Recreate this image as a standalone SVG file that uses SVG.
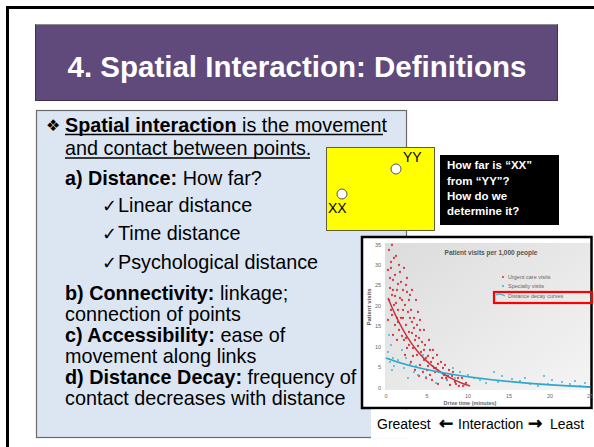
<svg xmlns="http://www.w3.org/2000/svg" width="594" height="447" viewBox="0 0 594 447">
<defs>
<style>
.t{font-family:"Liberation Sans",Arial,sans-serif;fill:#000}
.b{font-weight:bold}
.p{font-size:19.8px}
.ck{font-family:"DejaVu Sans",sans-serif;font-size:18px;fill:#000}
.tiny{font-family:"Liberation Sans",Arial,sans-serif;font-size:5.5px;fill:#666}
</style>
<linearGradient id="plotbg" x1="0" y1="0" x2="1" y2="1">
<stop offset="0" stop-color="#dcdcdc"/>
<stop offset="1" stop-color="#f4f4f4"/>
</linearGradient>
</defs>
<rect width="594" height="447" fill="#fff"/>
<g id="frame">
<path d="M7.5 447V7.5H594" fill="none" stroke="#000" stroke-width="3"/>
</g>
<g id="title">
<rect x="35.5" y="24.5" width="522" height="76" fill="#604a7b" stroke="#3f3151" stroke-width="1"/>
<line x1="35.5" y1="24.5" x2="557.5" y2="24.5" stroke="#8c8c8c" stroke-width="1"/>
<text x="297" y="77" text-anchor="middle" class="t b" style="font-size:29.5px;fill:#fff">4. Spatial Interaction: Definitions</text>
</g>
<g id="panel">
<rect x="36.5" y="110.5" width="370" height="327" fill="#dce6f2" stroke="#6a6a6a" stroke-width="1.2"/>
<text x="46" y="131" style="font-family:'DejaVu Sans',sans-serif;font-size:16px;fill:#000">❖</text>
<text x="65" y="131.5" class="t p"><tspan class="b">Spatial interaction</tspan> is the movement</text>
<line x1="65" y1="134.5" x2="383" y2="134.5" stroke="#000" stroke-width="1.6"/>
<text x="65" y="155" class="t p">and contact between points.</text>
<line x1="65" y1="158" x2="310" y2="158" stroke="#000" stroke-width="1.6"/>
<text x="65" y="185" class="t p"><tspan class="b">a) Distance:</tspan> How far?</text>
<text x="102" y="212" class="ck">✓</text>
<text x="118" y="212" class="t p">Linear distance</text>
<text x="102" y="240" class="ck">✓</text>
<text x="118" y="240" class="t p">Time distance</text>
<text x="102" y="268.5" class="ck">✓</text>
<text x="118" y="268.5" class="t p">Psychological distance</text>
<text x="65" y="299.5" class="t p"><tspan class="b">b) Connectivity:</tspan> linkage;</text>
<text x="65" y="320.5" class="t p">connection of points</text>
<text x="65" y="341.5" class="t p"><tspan class="b">c) Accessibility:</tspan> ease of</text>
<text x="65" y="362.5" class="t p">movement along links</text>
<text x="65" y="383.5" class="t p"><tspan class="b">d) Distance Decay:</tspan> frequency of</text>
<text x="65" y="404.5" class="t p">contact decreases with distance</text>
</g>
<g id="map">
<rect x="326.5" y="147.5" width="108" height="83" fill="#ffff00" stroke="#5f5f3a" stroke-width="1"/>
<circle cx="396" cy="169" r="5" fill="#fff" stroke="#555" stroke-width="1"/>
<circle cx="342" cy="194" r="5" fill="#fff" stroke="#555" stroke-width="1"/>
<text x="403" y="162" class="t" style="font-size:14px">YY</text>
<text x="328" y="213" class="t" style="font-size:14px">XX</text>
</g>
<g id="question">
<rect x="440" y="155" width="119" height="70" fill="#000"/>
<g class="t b" style="font-size:11.5px;fill:#fff">
<text x="447" y="169">How far is “XX”</text>
<text x="447" y="184.5">from “YY”?</text>
<text x="447" y="200">How do we</text>
<text x="447" y="215">determine it?</text>
</g>
</g>
<g id="chart">
<rect x="362" y="237" width="229.5" height="171" fill="#fff" stroke="#000" stroke-width="2.5"/>
<rect x="385" y="243" width="205" height="147" fill="url(#plotbg)"/>
<text x="491" y="255" text-anchor="middle" class="t b" style="font-size:6.5px;fill:#555">Patient visits per 1,000 people</text>
<text transform="translate(371 307) rotate(-90)" text-anchor="middle" class="t b" style="font-size:6px;fill:#555">Patient visits</text>
<g class="tiny" text-anchor="end">
<text x="381" y="247">35</text><text x="381" y="267">30</text><text x="381" y="287">25</text><text x="381" y="308">20</text><text x="381" y="328">15</text><text x="381" y="349">10</text><text x="381" y="369">5</text><text x="381" y="390">0</text>
</g>
<g class="tiny" text-anchor="middle">
<text x="386" y="398">0</text><text x="427" y="398">5</text><text x="468" y="398">10</text><text x="509" y="398">15</text><text x="550" y="398">20</text><text x="590" y="398">25</text>
</g>
<text x="470" y="405" text-anchor="middle" class="t b" style="font-size:5.5px;fill:#666">Drive time (minutes)</text>
<path fill="none" stroke="#d83a44" stroke-width="2.3" stroke-linecap="round" d="M389 250h0M391 262h0M388 270h0M393 280h0M390 288h0M392 295h0M389 300h0M394 305h0M391 310h0M388 320h0M393 335h0M396 256h0M399 265h0M395 275h0M401 282h0M397 290h0M400 298h0M396 303h0M398 310h0M401 318h0M395 325h0M399 330h0M397 340h0M404 268h0M407 278h0M403 290h0M409 300h0M405 305h0M408 312h0M403 318h0M406 325h0M409 332h0M404 340h0M407 348h0M405 355h0M412 290h0M416 300h0M411 310h0M414 318h0M417 325h0M412 333h0M415 340h0M413 348h0M417 355h0M411 362h0M415 370h0M420 320h0M424 330h0M419 338h0M425 345h0M421 352h0M426 358h0M420 365h0M423 372h0M426 378h0M429 340h0M433 350h0M428 356h0M431 362h0M434 368h0M430 375h0M432 380h0M437 355h0M441 362h0M436 368h0M440 372h0M442 378h0M438 384h0M445 365h0M449 370h0M444 375h0M447 380h0M450 385h0M453 372h0M458 378h0M455 382h0M459 386h0M462 378h0M466 383h0M463 386h0M392 245h0M394 258h0M400 272h0M406 285h0M410 295h0M418 312h0M422 342h0M428 366h0M435 372h0M446 378h0M452 376h0M398 322h0M402 336h0M413 356h0M419 376h0M390 278h0M393 290h0M398 284h0M402 300h0M407 292h0M410 318h0M414 328h0M418 346h0M424 360h0M430 350h0M391 268h0M395 296h0M392 315h0M397 318h0M403 310h0M406 338h0M409 345h0M412 322h0M416 336h0M420 330h0M424 350h0M427 370h0M433 358h0M438 364h0M443 368h0M448 376h0M456 384h0"/>
<path fill="none" stroke="#45b3d6" stroke-width="2" stroke-linecap="round" d="M389 335h0M391 345h0M388 352h0M393 358h0M390 362h0M394 366h0M392 370h0M402 350h0M406 358h0M410 364h0M404 368h0M414 372h0M418 375h0M408 378h0M423 355h0M428 362h0M433 366h0M438 370h0M443 374h0M426 377h0M447 380h0M436 383h0M453 368h0M460 372h0M468 375h0M474 378h0M480 380h0M486 383h0M464 385h0M494 372h0M502 376h0M512 379h0M520 381h0M530 384h0M538 386h0M544 376h0M552 380h0M562 382h0M570 384h0M580 386h0M588 387h0M398 360h0M416 366h0M455 378h0M498 382h0M525 378h0M548 384h0M575 381h0M585 383h0"/>
<path d="M388 298C405 340 425 372 470 386" fill="none" stroke="#c9303a" stroke-width="1.5"/>
<path d="M386 358C430 375 500 383 590 387" fill="none" stroke="#2fa6cc" stroke-width="1.8"/>
<circle cx="503" cy="277" r="1.1" fill="#d83a44"/>
<circle cx="503" cy="286" r="1.1" fill="#45b3d6"/>
<path d="M496 295q4 -2 9 1" fill="none" stroke="#45b3d6" stroke-width="1.2"/>
<g class="tiny" style="font-size:5.5px">
<text x="508" y="279">Urgent care visits</text>
<text x="508" y="288">Specialty visits</text>
<text x="508" y="298">Distance decay curves</text>
</g>
<rect x="494" y="292" width="98" height="11" fill="none" stroke="#ff0000" stroke-width="2.2"/>
</g>
<g id="caption">
<rect x="371" y="409.5" width="221" height="29" fill="#fff"/>
<text y="429" class="t" style="font-size:14px"><tspan x="377">Greatest</tspan><tspan x="439" style="font-family:'DejaVu Sans',sans-serif;font-size:17px;stroke:#000;stroke-width:0.7">←</tspan><tspan x="458">Interaction</tspan><tspan x="528" style="font-family:'DejaVu Sans',sans-serif;font-size:17px;stroke:#000;stroke-width:0.7">→</tspan><tspan x="550">Least</tspan></text>
</g>
</svg>
